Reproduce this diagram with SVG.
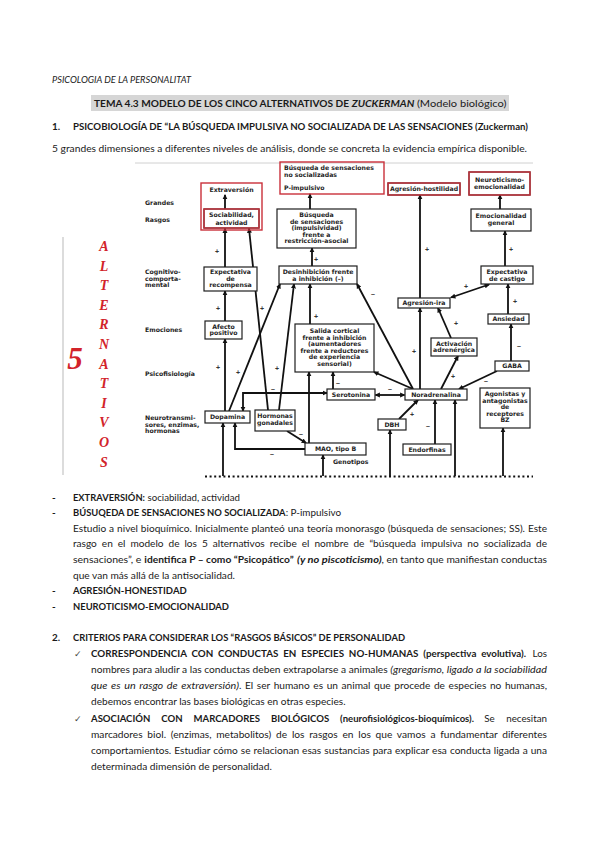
<svg xmlns="http://www.w3.org/2000/svg" width="599" height="848" viewBox="0 0 599 848">
<defs>
<style>
.t{font-family:Lato,"Liberation Sans",sans-serif;font-size:9.9px;fill:#1a1a1a}
.b{font-weight:bold}
.i{font-style:italic}
.d{font-family:"DejaVu Sans","Liberation Sans",sans-serif;font-size:6.2px;font-weight:bold;fill:#1e1e1e}
.dc{text-anchor:middle}
.sg{font-family:"Liberation Sans",Arial,sans-serif;font-size:7px;font-weight:bold;fill:#333;text-anchor:middle}
.box{fill:#fff;stroke:#1e1e1e;stroke-width:1.2}
.rbox{fill:none;stroke:#c9303a;stroke-width:1.4}
.ar{stroke:#111;stroke-width:1.8;fill:none;marker-end:url(#ah)}
.ar2{stroke:#111;stroke-width:1.8;fill:none;marker-end:url(#ah);marker-start:url(#ah)}
.red{font-family:"Liberation Serif","DejaVu Serif",serif;font-weight:bold;font-style:italic;fill:#d2232a;text-anchor:middle}
.ck{font-family:"DejaVu Sans",sans-serif;font-size:9px;fill:#444}
</style>
<marker id="ah" viewBox="0 0 10 10" refX="8" refY="5" markerWidth="5.5" markerHeight="5.5" markerUnits="userSpaceOnUse" orient="auto-start-reverse">
<path d="M0,0.5 L10,5 L0,9.5 z" fill="#111"/>
</marker>
</defs>
<rect width="599" height="848" fill="#fff"/>

<!-- header -->
<g id="header">
<text class="t i" x="52" y="83" font-size="7.5" textLength="139" lengthAdjust="spacingAndGlyphs">PSICOLOGIA DE LA PERSONALITAT</text>
<rect x="91" y="95" width="418" height="16" fill="#d6d6d6"/>
<text class="t b" x="94" y="107" font-size="10.7" textLength="255" lengthAdjust="spacingAndGlyphs">TEMA 4.3 MODELO DE LOS CINCO ALTERNATIVOS DE</text>
<text class="t b i" x="351.7" y="107" font-size="10.7" textLength="62.6" lengthAdjust="spacingAndGlyphs">ZUCKERMAN</text>
<text class="t" x="416.9" y="107" font-size="10.7" textLength="89.5" lengthAdjust="spacingAndGlyphs">(Modelo biológico)</text>
<text class="t b" x="52" y="130">1.</text>
<text class="t b" x="73" y="130" textLength="455" lengthAdjust="spacingAndGlyphs">PSICOBIOLOGÍA DE “LA BÚSQUEDA IMPULSIVA NO SOCIALIZADA DE LAS SENSACIONES (Zuckerman)</text>
<text class="t" x="52" y="151.5" textLength="475" lengthAdjust="spacingAndGlyphs">5 grandes dimensiones a diferentes niveles de análisis, donde se concreta la evidencia empírica disponible.</text>
</g>

<!-- left column -->
<g id="alternativos">
<line x1="63" y1="237" x2="63" y2="475" stroke="#d0d0d0" stroke-width="1.5"/>
<text class="red" x="75" y="369" font-size="31">5</text>
<g font-size="14">
<text class="red" x="104" y="251">A</text>
<text class="red" x="104" y="270.6">L</text>
<text class="red" x="104" y="290.2">T</text>
<text class="red" x="104" y="309.8">E</text>
<text class="red" x="104" y="329.4">R</text>
<text class="red" x="104" y="349">N</text>
<text class="red" x="104" y="368.6">A</text>
<text class="red" x="104" y="388.2">T</text>
<text class="red" x="104" y="407.8">I</text>
<text class="red" x="104" y="427.4">V</text>
<text class="red" x="104" y="447">O</text>
<text class="red" x="104" y="466.6">S</text>
</g>
</g>

<!-- diagram frame and level labels -->
<g id="levels">
<line x1="135" y1="163" x2="533" y2="163" stroke="#c4c4c4" stroke-width="0.8"/>
<text class="d" x="145" y="205">Grandes</text>
<text class="d" x="145" y="222">Rasgos</text>
<text class="d" x="145" y="274">Cognitivo-</text>
<text class="d" x="145" y="280.5">comporta-</text>
<text class="d" x="145" y="287">mental</text>
<text class="d" x="145" y="332">Emociones</text>
<text class="d" x="145" y="376">Psicofisiología</text>
<text class="d" x="145" y="420">Neurotransmi-</text>
<text class="d" x="145" y="426.5">sores, enzimas,</text>
<text class="d" x="145" y="433">hormonas</text>
<text class="d" x="333" y="463.5">Genotipos</text>
<line x1="205" y1="476.5" x2="533" y2="476.5" stroke="#111" stroke-width="2" stroke-dasharray="2,2.6"/>
</g>

<!-- connectors -->
<g id="connectors">
<line class="ar" x1="225" y1="209" x2="225" y2="195"/>
<line class="ar" x1="225" y1="267" x2="225" y2="228.5"/>
<line class="ar" x1="268" y1="410" x2="249" y2="228.5"/>
<line class="ar" x1="310" y1="209" x2="310" y2="194"/>
<line class="ar" x1="312" y1="266" x2="312" y2="248"/>
<line class="ar" x1="420" y1="298" x2="420" y2="195"/>
<line class="ar" x1="500" y1="209" x2="500" y2="195"/>
<line class="ar" x1="505" y1="266" x2="505" y2="231"/>
<line class="ar2" x1="451" y1="297.5" x2="489" y2="284.5"/>
<line class="ar" x1="508" y1="314" x2="508" y2="284"/>
<line class="ar" x1="511" y1="361" x2="511" y2="324"/>
<line class="ar" x1="451" y1="338" x2="438" y2="308"/>
<line class="ar" x1="420" y1="389" x2="420" y2="308"/>
<line class="ar" x1="441" y1="389" x2="458" y2="356"/>
<line class="ar" x1="497" y1="371" x2="459" y2="389"/>
<line class="ar" x1="413" y1="389" x2="374" y2="372"/>
<line class="ar" x1="413" y1="389" x2="357" y2="284"/>
<line class="ar2" x1="375.5" y1="395" x2="404.5" y2="395"/>
<line class="ar" x1="333" y1="389" x2="333" y2="372"/>
<path class="ar2" d="M243,411 V393 H327"/>
<line class="ar" x1="225" y1="411" x2="225" y2="339"/>
<line class="ar" x1="225" y1="321" x2="225" y2="291"/>
<line class="ar" x1="229" y1="411" x2="280" y2="284"/>
<line class="ar" x1="279" y1="410" x2="294" y2="284"/>
<line class="ar" x1="310" y1="324" x2="310" y2="284"/>
<line class="ar" x1="287" y1="431" x2="306" y2="443"/>
<path class="ar" d="M305,449 H235 V423"/>
<line class="ar" x1="309" y1="443" x2="309" y2="372"/>
<line class="ar" x1="223" y1="476" x2="223" y2="423"/>
<line class="ar" x1="323" y1="476" x2="323" y2="455"/>
<line class="ar" x1="390" y1="476" x2="390" y2="430"/>
<line class="ar" x1="399" y1="419" x2="418" y2="400"/>
<line class="ar" x1="435" y1="444" x2="435" y2="400"/>
<line class="ar" x1="455" y1="476" x2="455" y2="400"/>
<line class="ar" x1="503" y1="476" x2="503" y2="428"/>
</g>

<!-- signs -->
<g id="signs">
<text class="sg" x="217" y="254">+</text>
<text class="sg" x="316" y="262">+</text>
<text class="sg" x="427" y="252">+</text>
<text class="sg" x="511" y="252">+</text>
<text class="sg" x="466" y="289">+</text>
<text class="sg" x="515" y="304">+</text>
<text class="sg" x="519" y="348">–</text>
<text class="sg" x="456" y="326">+</text>
<text class="sg" x="414" y="354">+</text>
<text class="sg" x="453" y="379">+</text>
<text class="sg" x="486" y="383">–</text>
<text class="sg" x="373" y="296">–</text>
<text class="sg" x="390" y="391">–</text>
<text class="sg" x="338" y="385">–</text>
<text class="sg" x="273" y="391">–</text>
<text class="sg" x="218" y="311">+</text>
<text class="sg" x="262" y="311">+</text>
<text class="sg" x="316" y="319">+</text>
<text class="sg" x="218" y="370">+</text>
<text class="sg" x="238" y="375">+</text>
<text class="sg" x="277" y="371">+</text>
<text class="sg" x="301" y="436">–</text>
<text class="sg" x="272" y="456">–</text>
<text class="sg" x="412" y="417">+</text>
<text class="sg" x="428" y="428">–</text>
</g>

<!-- nodes -->
<g id="n-extraversion">
<rect class="rbox" x="201" y="183" width="61" height="47"/>
<text class="d dc" x="231.5" y="191.5">Extraversión</text>
</g>
<g id="n-sociabilidad">
<rect class="box" x="204" y="209" width="55" height="19"/>
<rect class="rbox" x="204" y="209" width="55" height="19"/>
<text class="d dc" x="231.5" y="217">Sociabilidad,</text>
<text class="d dc" x="231.5" y="224.5">actividad</text>
</g>
<g id="n-pimpulsivo">
<rect class="rbox" x="280" y="162" width="104" height="32"/>
<text class="d" x="284" y="170">Búsqueda de sensaciones</text>
<text class="d" x="284" y="177">no socializadas</text>
<text class="d" x="284" y="190">P-impulsivo</text>
</g>
<g id="n-busqueda">
<rect class="box" x="277" y="209" width="79" height="39"/>
<text class="d dc" x="316.5" y="217">Búsqueda</text>
<text class="d dc" x="316.5" y="223.5">de sensaciones</text>
<text class="d dc" x="316.5" y="230">(impulsividad)</text>
<text class="d dc" x="316.5" y="236.5">frente a</text>
<text class="d dc" x="316.5" y="243">restricción-asocial</text>
</g>
<g id="n-agresion-hostilidad">
<rect class="box" x="388" y="183" width="72" height="12"/>
<rect class="rbox" x="388" y="183" width="72" height="12"/>
<text class="d dc" x="424" y="191.3">Agresión-hostilidad</text>
</g>
<g id="n-neuroticismo">
<rect class="box" x="469" y="172" width="61" height="23"/>
<rect class="rbox" x="469" y="172" width="61" height="23"/>
<text class="d dc" x="499.5" y="182">Neuroticismo-</text>
<text class="d dc" x="499.5" y="189">emocionalidad</text>
</g>
<g id="n-emocionalidad">
<rect class="box" x="471" y="209" width="60" height="22"/>
<text class="d dc" x="501" y="218">Emocionalidad</text>
<text class="d dc" x="501" y="225">general</text>
</g>
<g id="n-recompensa">
<rect class="box" x="204" y="267" width="53" height="24"/>
<text class="d dc" x="230.5" y="274">Expectativa</text>
<text class="d dc" x="230.5" y="280.5">de</text>
<text class="d dc" x="230.5" y="287">recompensa</text>
</g>
<g id="n-desinhibicion">
<rect class="box" x="279" y="266" width="78" height="18"/>
<text class="d dc" x="318" y="273.5">Desinhibición frente</text>
<text class="d dc" x="318" y="280.5">a inhibición (–)</text>
</g>
<g id="n-castigo">
<rect class="box" x="481" y="266" width="52" height="18"/>
<text class="d dc" x="507" y="273.5">Expectativa</text>
<text class="d dc" x="507" y="280.5">de castigo</text>
</g>
<g id="n-agresion-ira">
<rect class="box" x="398" y="298" width="52" height="10"/>
<text class="d dc" x="424" y="305.2">Agresión-ira</text>
</g>
<g id="n-ansiedad">
<rect class="box" x="488" y="314" width="41" height="10"/>
<text class="d dc" x="508.5" y="321.2">Ansiedad</text>
</g>
<g id="n-afecto">
<rect class="box" x="205" y="321" width="37" height="18"/>
<text class="d dc" x="223.5" y="328.5">Afecto</text>
<text class="d dc" x="223.5" y="335">positivo</text>
</g>
<g id="n-salida">
<rect class="box" x="295" y="324" width="79" height="48"/>
<text class="d dc" x="334.5" y="333">Salida cortical</text>
<text class="d dc" x="334.5" y="339.5">frente a inhibición</text>
<text class="d dc" x="334.5" y="346">(aumentadores</text>
<text class="d dc" x="334.5" y="352.5">frente a reductores</text>
<text class="d dc" x="334.5" y="359">de experiencia</text>
<text class="d dc" x="334.5" y="365.5">sensorial)</text>
</g>
<g id="n-activacion">
<rect class="box" x="431" y="338" width="46" height="18"/>
<text class="d dc" x="454" y="345.5">Activación</text>
<text class="d dc" x="454" y="352">adrenérgica</text>
</g>
<g id="n-gaba">
<rect class="box" x="495" y="361" width="34" height="10"/>
<text class="d dc" x="512" y="368.2">GABA</text>
</g>
<g id="n-serotonina">
<rect class="box" x="327" y="389" width="48" height="11"/>
<text class="d dc" x="351" y="396.7">Serotonina</text>
</g>
<g id="n-noradrenalina">
<rect class="box" x="405" y="389" width="62" height="11"/>
<text class="d dc" x="436" y="396.7">Noradrenalina</text>
</g>
<g id="n-agonistas">
<rect class="box" x="480" y="388" width="50" height="40"/>
<text class="d dc" x="505" y="396">Agonistas y</text>
<text class="d dc" x="505" y="402.5">antagonistas</text>
<text class="d dc" x="505" y="409">de</text>
<text class="d dc" x="505" y="415.5">receptores</text>
<text class="d dc" x="505" y="422">BZ</text>
</g>
<g id="n-dbh">
<rect class="box" x="378" y="419" width="28" height="11"/>
<text class="d dc" x="392" y="426.7">DBH</text>
</g>
<g id="n-endorfinas">
<rect class="box" x="403" y="444" width="48" height="11"/>
<text class="d dc" x="427" y="451.7">Endorfinas</text>
</g>
<g id="n-mao">
<rect class="box" x="305" y="443" width="61" height="12"/>
<text class="d dc" x="335.5" y="451.2">MAO, tipo B</text>
</g>
<g id="n-dopamina">
<rect class="box" x="205" y="411" width="45" height="12"/>
<text class="d dc" x="227.5" y="419.2">Dopamina</text>
</g>
<g id="n-hormonas">
<rect class="box" x="255" y="410" width="40" height="21"/>
<text class="d dc" x="275" y="418">Hormonas</text>
<text class="d dc" x="275" y="425">gonadales</text>
</g>

<!-- body text section 1 -->
<g id="section1">
<text class="t b" x="52" y="500.5">-</text>
<text class="t b" x="73" y="500.5" textLength="72" lengthAdjust="spacingAndGlyphs">EXTRAVERSIÓN:</text>
<text class="t" x="147.5" y="500.5" textLength="92.5" lengthAdjust="spacingAndGlyphs">sociabilidad, actividad</text>
<text class="t b" x="52" y="516">-</text>
<text class="t" x="73" y="516"><tspan class="b" font-size="9.4">BÚSUQEDA DE SENSACIONES NO SOCIALIZADA</tspan>: P-impulsivo</text>
<text class="t" x="73" y="531.7" word-spacing="0.33" textLength="474" lengthAdjust="spacingAndGlyphs">Estudio a nivel bioquímico. Inicialmente planteó una teoría monorasgo (búsqueda de sensaciones; SS). Este</text>
<text class="t" x="73" y="547.3" word-spacing="2.34" textLength="474" lengthAdjust="spacingAndGlyphs">rasgo en el modelo de los 5 alternativos recibe el nombre de “búsqueda impulsiva no socializada de</text>
<text class="t" x="73" y="563" textLength="68.4" lengthAdjust="spacingAndGlyphs">sensaciones”, e</text>
<text class="t b" x="144.3" y="563" textLength="149.4" lengthAdjust="spacingAndGlyphs">identifica P – como “Psicopático”</text>
<text class="t b i" x="297" y="563" textLength="84.6" lengthAdjust="spacingAndGlyphs">(y no piscoticismo)</text>
<text class="t" x="381.6" y="563" textLength="165.4" lengthAdjust="spacingAndGlyphs">, en tanto que manifiestan conductas</text>
<text class="t" x="73" y="578.5" textLength="162" lengthAdjust="spacingAndGlyphs">que van más allá de la antisocialidad.</text>
<text class="t b" x="52" y="594">-</text>
<text class="t b" x="73" y="594" textLength="113.7" lengthAdjust="spacingAndGlyphs">AGRESIÓN-HONESTIDAD</text>
<text class="t b" x="52" y="609.7">-</text>
<text class="t b" x="73" y="609.7" textLength="156" lengthAdjust="spacingAndGlyphs">NEUROTICISMO-EMOCIONALIDAD</text>
</g>

<!-- body text section 2 -->
<g id="section2">
<text class="t b" x="52" y="640.5">2.</text>
<text class="t b" x="73" y="640.5" textLength="332" lengthAdjust="spacingAndGlyphs">CRITERIOS PARA CONSIDERAR LOS “RASGOS BÁSICOS” DE PERSONALIDAD</text>
<text class="ck" x="74" y="657">✓</text>
<text class="t b" x="91" y="656.7" font-size="9.2" word-spacing="2.5" textLength="435" lengthAdjust="spacingAndGlyphs">CORRESPONDENCIA CON CONDUCTAS EN ESPECIES NO-HUMANAS (perspectiva evolutiva).</text>
<text class="t" x="532.5" y="656.7" textLength="14.5" lengthAdjust="spacingAndGlyphs">Los</text>
<text class="t" x="91" y="672.9" textLength="296.6" lengthAdjust="spacingAndGlyphs">nombres para aludir a las conductas deben extrapolarse a animales</text>
<text class="t i" x="390.2" y="672.9" textLength="156.8" lengthAdjust="spacingAndGlyphs">(gregarismo, ligado a la sociabilidad</text>
<text class="t i" x="91" y="689.1" word-spacing="1" textLength="148" lengthAdjust="spacingAndGlyphs">que es un rasgo de extraversión)</text>
<text class="t" x="239" y="689.1" word-spacing="1" textLength="308" lengthAdjust="spacingAndGlyphs">. El ser humano es un animal que procede de especies no humanas,</text>
<text class="t" x="91" y="705.3" textLength="254.6" lengthAdjust="spacingAndGlyphs">debemos encontrar las bases biológicas en otras especies.</text>
<text class="ck" x="74" y="721.8">✓</text>
<text class="t b" x="91" y="721.5" word-spacing="9" textLength="383" lengthAdjust="spacingAndGlyphs">ASOCIACIÓN CON MARCADORES BIOLÓGICOS (neurofisiológicos-bioquímicos).</text>
<text class="t" x="484.3" y="721.5" word-spacing="9" textLength="62.7" lengthAdjust="spacingAndGlyphs">Se necesitan</text>
<text class="t" x="91" y="737.7" word-spacing="2.1" textLength="456" lengthAdjust="spacingAndGlyphs">marcadores biol. (enzimas, metabolitos) de los rasgos en los que vamos a fundamentar diferentes</text>
<text class="t" x="91" y="753.9" word-spacing="0.45" textLength="456" lengthAdjust="spacingAndGlyphs">comportamientos. Estudiar cómo se relacionan esas sustancias para explicar esa conducta ligada a una</text>
<text class="t" x="91" y="770.1" textLength="180.8" lengthAdjust="spacingAndGlyphs">determinada dimensión de personalidad.</text>
</g>
</svg>
